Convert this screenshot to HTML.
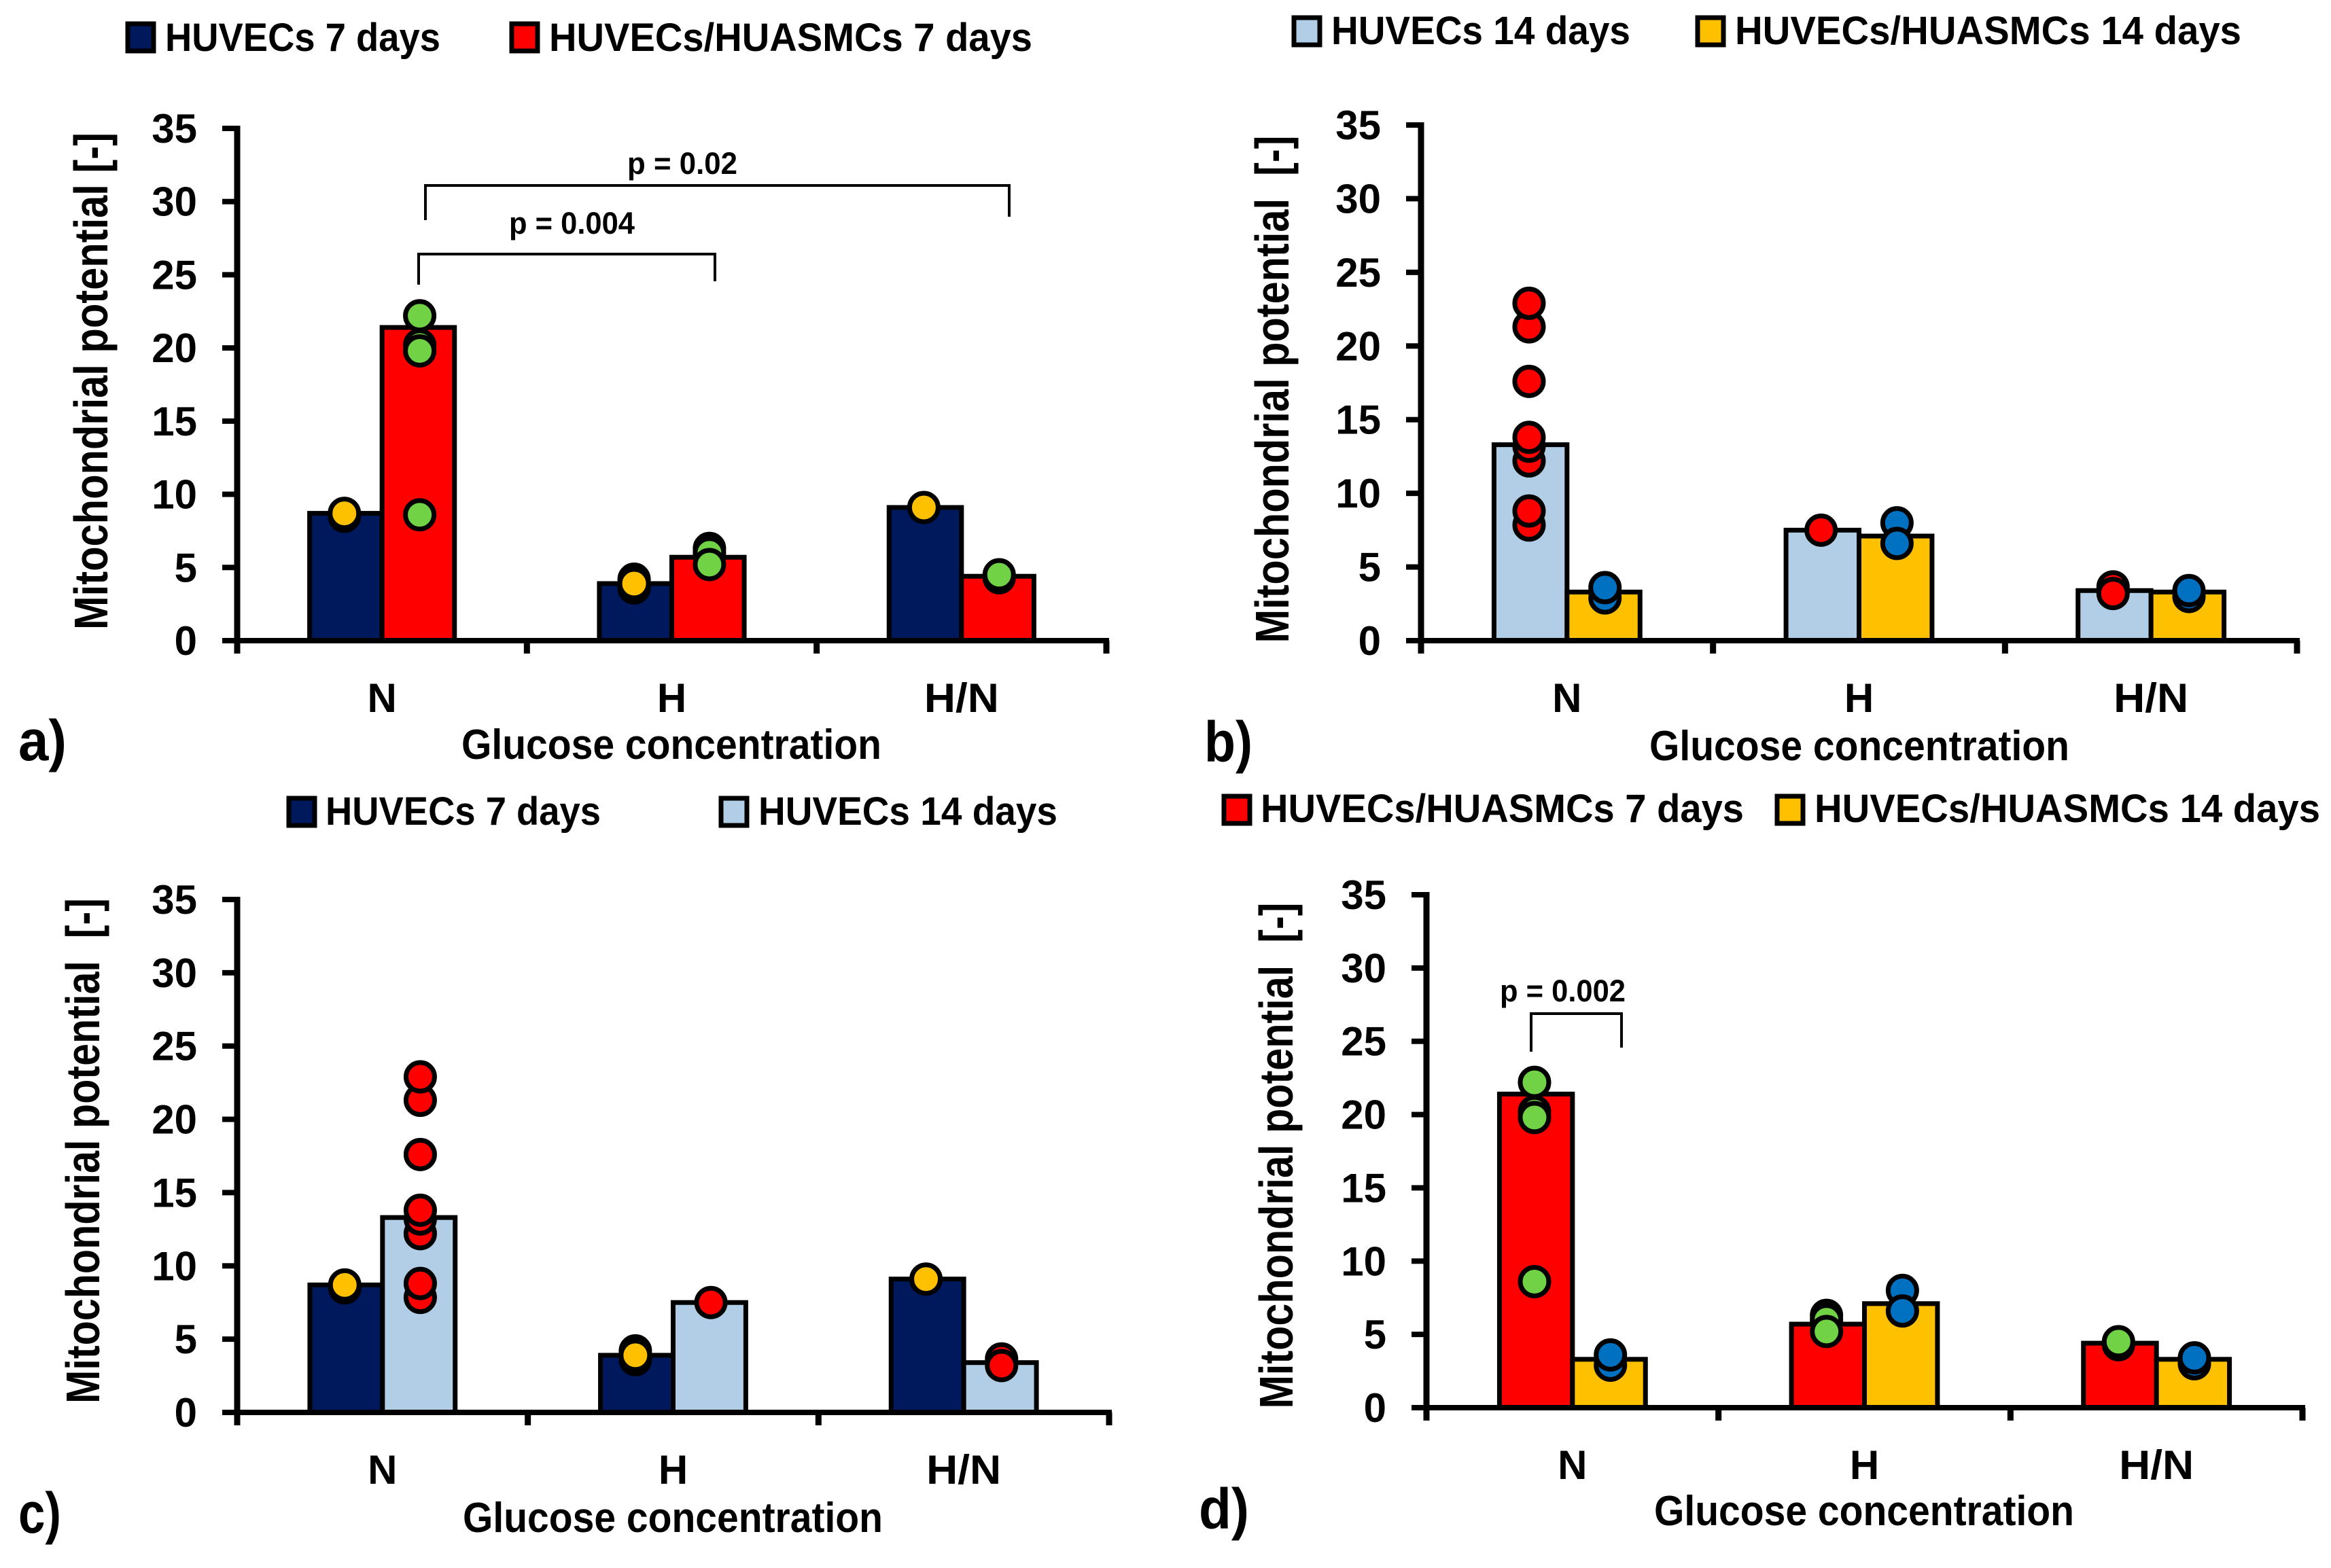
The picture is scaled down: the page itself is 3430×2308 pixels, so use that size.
<!DOCTYPE html>
<html lang="en">
<head>
<meta charset="utf-8">
<title>Mitochondrial potential by glucose concentration</title>
<style>
html,body{margin:0;padding:0;background:#fff;}
svg{display:block;}
text{font-family:"Liberation Sans",Arial,sans-serif;font-weight:700;fill:#000;}
.leg{font-size:58px;}
.ytitle{font-size:70px;}
.xtitle{font-size:62px;}
.letter{font-size:84px;}
.pval{font-size:45px;}
.tick{font-size:60px;}
.swatch{stroke:#000;stroke-width:7;}
.bracket{fill:none;stroke:#000;stroke-width:4;}
</style>
</head>
<body>
<svg id="figure" xmlns="http://www.w3.org/2000/svg" width="3430" height="2308" viewBox="0 0 3430 2308">
<rect width="3430" height="2308" fill="#fff"/>

<g id="panel-a">
  <rect class="swatch" x="188" y="35" width="38" height="40" fill="#00195c"/>
  <text class="leg" x="243" y="75" textLength="405" lengthAdjust="spacingAndGlyphs">HUVECs 7 days</text>
  <rect class="swatch" x="753" y="35" width="38" height="40" fill="#ff0000"/>
  <text class="leg" x="808" y="75" textLength="711" lengthAdjust="spacingAndGlyphs">HUVECs/HUASMCs 7 days</text>
  <text class="ytitle" text-anchor="middle" transform="translate(158,561) rotate(-90)" textLength="732" lengthAdjust="spacingAndGlyphs">Mitochondrial potential [-]</text>
  <text class="xtitle" text-anchor="middle" x="988" y="1117" textLength="618" lengthAdjust="spacingAndGlyphs">Glucose concentration</text>
  <text class="letter" x="27" y="1119" textLength="71" lengthAdjust="spacingAndGlyphs">a)</text>
</g>

<g id="panel-b">
  <rect class="swatch" x="1904" y="26" width="38" height="40" fill="#b2cee6"/>
  <text class="leg" x="1959" y="65" textLength="440" lengthAdjust="spacingAndGlyphs">HUVECs 14 days</text>
  <rect class="swatch" x="2498" y="26" width="38" height="40" fill="#ffc000"/>
  <text class="leg" x="2553" y="65" textLength="745" lengthAdjust="spacingAndGlyphs">HUVECs/HUASMCs 14 days</text>
  <text class="ytitle" text-anchor="middle" transform="translate(1896,573) rotate(-90)" textLength="747" lengthAdjust="spacingAndGlyphs">Mitochondrial potential&#160; [-]</text>
  <text class="xtitle" text-anchor="middle" x="2736" y="1119" textLength="618" lengthAdjust="spacingAndGlyphs">Glucose concentration</text>
  <text class="letter" x="1772" y="1121" textLength="71" lengthAdjust="spacingAndGlyphs">b)</text>
</g>

<g id="panel-c">
  <rect class="swatch" x="425" y="1175" width="38" height="40" fill="#00195c"/>
  <text class="leg" x="479" y="1214" textLength="405" lengthAdjust="spacingAndGlyphs">HUVECs 7 days</text>
  <rect class="swatch" x="1061" y="1175" width="38" height="40" fill="#b2cee6"/>
  <text class="leg" x="1116" y="1214" textLength="440" lengthAdjust="spacingAndGlyphs">HUVECs 14 days</text>
  <text class="ytitle" text-anchor="middle" transform="translate(146,1694) rotate(-90)" textLength="744" lengthAdjust="spacingAndGlyphs">Mitochondrial potential&#160; [-]</text>
  <text class="xtitle" text-anchor="middle" x="990" y="2255" textLength="618" lengthAdjust="spacingAndGlyphs">Glucose concentration</text>
  <text class="letter" x="27" y="2256" textLength="63" lengthAdjust="spacingAndGlyphs">c)</text>
</g>

<g id="panel-d">
  <rect class="swatch" x="1801" y="1172" width="38" height="40" fill="#ff0000"/>
  <text class="leg" x="1855" y="1210" textLength="711" lengthAdjust="spacingAndGlyphs">HUVECs/HUASMCs 7 days</text>
  <rect class="swatch" x="2615" y="1172" width="38" height="40" fill="#ffc000"/>
  <text class="leg" x="2670" y="1210" textLength="744" lengthAdjust="spacingAndGlyphs">HUVECs/HUASMCs 14 days</text>
  <text class="ytitle" text-anchor="middle" transform="translate(1902,1701) rotate(-90)" textLength="745" lengthAdjust="spacingAndGlyphs">Mitochondrial potential&#160; [-]</text>
  <text class="xtitle" text-anchor="middle" x="2743" y="2245" textLength="618" lengthAdjust="spacingAndGlyphs">Glucose concentration</text>
  <text class="letter" x="1764" y="2250" textLength="74" lengthAdjust="spacingAndGlyphs">d)</text>
</g>

<g id="annotations">
  <path class="bracket" d="M626 324V273H1485V319"/>
  <text class="pval" x="923" y="256" textLength="162" lengthAdjust="spacingAndGlyphs">p = 0.02</text>
  <path class="bracket" d="M616 419V374H1052V414"/>
  <text class="pval" x="749" y="344" textLength="185" lengthAdjust="spacingAndGlyphs">p = 0.004</text>
  <path class="bracket" d="M2253 1548V1492H2386V1542"/>
  <text class="pval" x="2207" y="1474" textLength="185" lengthAdjust="spacingAndGlyphs">p = 0.002</text>
</g>
</svg>

<script>
const categories = ['N', 'H', 'H/N'];
const yTickValues = [0, 5, 10, 15, 20, 25, 30, 35];

const huvecs7Means = [8.7, 3.9, 9.1];
const cocultures7Means = [21.4, 5.7, 4.4];
const huvecs14Means = [13.3, 7.5, 3.4];
const cocultures14Means = [3.3, 7.1, 3.3];

const huvecs7Points = [[8.5, 8.7], [3.6, 4.2, 3.9], [9.1]];
const cocultures7Points = [[8.6, 22.2, 20.2, 19.8], [6.3, 6.0, 5.2], [4.3, 4.5]];
const huvecs14Points = [[7.85, 8.8, 12.2, 13.2, 13.8, 17.6, 21.3, 22.9], [7.5], [3.65, 3.2]];
const cocultures14Points = [[2.9, 3.6], [8.0, 6.6], [3.0, 3.4]];

const navyFill = '#00195c';
const redFill = '#ff0000';
const paleBlueFill = '#b2cee6';
const amberFill = '#ffc000';
const amberDot = '#ffc000';
const greenDot = '#70d244';
const redDot = '#ff0000';
const blueDot = '#0070c0';

const SVG_NS = 'http://www.w3.org/2000/svg';

function make(tag, attrs, parent) {
  const el = document.createElementNS(SVG_NS, tag);
  for (const key in attrs) el.setAttribute(key, attrs[key]);
  parent.appendChild(el);
  return el;
}

function drawPanel(panelId, frame, left, right) {
  const parent = document.getElementById(panelId);
  const step = (frame.xEnd - frame.xStart) / categories.length;
  const barWidth = step / 4;
  const yScale = v => frame.y0 - (v / 35) * (frame.y0 - frame.y35);
  const groupCenter = i => frame.xStart + step * (i + 0.5);

  [left, right].forEach((series, s) => {
    series.means.forEach((value, i) => {
      const bar = make('rect', {
        x: groupCenter(i) + (s - 1) * barWidth,
        y: yScale(value),
        width: barWidth,
        height: frame.y0 - yScale(value),
        fill: series.fill,
        stroke: '#000',
        'stroke-width': 7,
        'stroke-linejoin': 'miter'
      }, parent);
      
      
    });
  });

  const yAxis = make('rect', {
    x: frame.xStart - 4.5,
    y: frame.y35 - 4,
    width: 9,
    height: frame.y0 - frame.y35 + 23,
    fill: '#000'
  }, parent);
  
  

  const xAxis = make('rect', {
    x: frame.xStart - 22,
    y: frame.y0 - 4,
    width: frame.xEnd - frame.xStart + 26,
    height: 8,
    fill: '#000'
  }, parent);
  
  

  yTickValues.forEach(value => {
    const tick = make('rect', {
      x: frame.xStart - 22,
      y: yScale(value) - 4,
      width: 22,
      height: 8,
      fill: '#000'
    }, parent);
    
    

    const label = make('text', {
      class: 'tick',
      x: frame.labelRight + 2,
      y: yScale(value) + 21,
      'text-anchor': 'end'
    }, parent);
    
    
    label.textContent = value;
  });

  for (let i = 0; i <= categories.length; i++) {
    const tick = make('rect', {
      x: frame.xStart + step * i - 4.5,
      y: frame.y0,
      width: 9,
      height: 19,
      fill: '#000'
    }, parent);
    
    
  }

  categories.forEach((name, i) => {
    const attrs = {
      class: 'tick',
      x: groupCenter(i),
      y: frame.catBaseline,
      'text-anchor': 'middle'
    };
    if (name.length > 1) {
      attrs.textLength = 110;
      attrs.lengthAdjust = 'spacingAndGlyphs';
    }
    const label = make('text', attrs, parent);
    
    
    label.textContent = name;
  });

  [left, right].forEach((series, s) => {
    series.points.forEach((values, i) => {
      values.forEach(value => {
        const dot = make('circle', {
          cx: groupCenter(i) + (s - 0.5) * barWidth * 1.04,
          cy: yScale(value),
          r: 21,
          fill: series.dot,
          stroke: '#000',
          'stroke-width': 7
        }, parent);
        
        
      });
    });
  });
}

const huvecs7 = { means: huvecs7Means, points: huvecs7Points, fill: navyFill, dot: amberDot };
const cocultures7 = { means: cocultures7Means, points: cocultures7Points, fill: redFill, dot: greenDot };
const huvecs14 = { means: huvecs14Means, points: huvecs14Points, fill: paleBlueFill, dot: redDot };
const cocultures14 = { means: cocultures14Means, points: cocultures14Points, fill: amberFill, dot: blueDot };

drawPanel('panel-a', { xStart: 349, xEnd: 1628, y0: 943, y35: 189, labelRight: 288, catBaseline: 1048 }, huvecs7, cocultures7);
drawPanel('panel-b', { xStart: 2091, xEnd: 3380, y0: 943, y35: 184, labelRight: 2030, catBaseline: 1048 }, huvecs14, cocultures14);
drawPanel('panel-c', { xStart: 349, xEnd: 1632, y0: 2079, y35: 1324, labelRight: 288, catBaseline: 2184 }, huvecs7, huvecs14);
drawPanel('panel-d', { xStart: 2099, xEnd: 3388, y0: 2072, y35: 1317, labelRight: 2038, catBaseline: 2177 }, cocultures7, cocultures14);
</script>
</body>
</html>
